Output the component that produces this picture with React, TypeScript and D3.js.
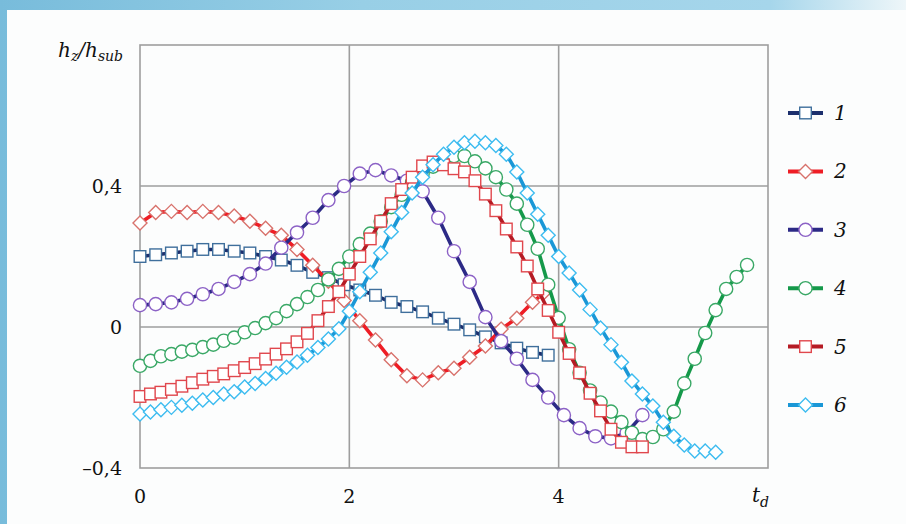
import React from "react";
import * as d3 from "d3";

// time axis values (t_d) and h_z/h_sub values
const t1 = [0, 0.15, 0.3, 0.45, 0.6, 0.75, 0.9, 1.05, 1.2, 1.35, 1.5, 1.65, 1.8, 1.95, 2.1, 2.25, 2.4, 2.55, 2.7, 2.85, 3.0, 3.15, 3.3, 3.45, 3.6, 3.75, 3.9];
const v1 = [0.2, 0.205, 0.21, 0.215, 0.22, 0.22, 0.215, 0.21, 0.2, 0.19, 0.175, 0.155, 0.14, 0.12, 0.105, 0.09, 0.07, 0.058, 0.043, 0.025, 0.008, -0.008, -0.028, -0.045, -0.06, -0.072, -0.08];

const t2 = [0, 0.15, 0.3, 0.45, 0.6, 0.75, 0.9, 1.05, 1.2, 1.35, 1.5, 1.65, 1.8, 1.95, 2.1, 2.25, 2.4, 2.55, 2.7, 2.85, 3.0, 3.15, 3.3, 3.45, 3.6, 3.75, 3.85];
const v2 = [0.295, 0.325, 0.328, 0.325, 0.328, 0.325, 0.315, 0.3, 0.28, 0.26, 0.22, 0.175, 0.13, 0.075, 0.018, -0.037, -0.093, -0.138, -0.15, -0.13, -0.117, -0.086, -0.054, -0.006, 0.025, 0.07, 0.095];

const t3 = [0, 0.15, 0.3, 0.45, 0.6, 0.75, 0.9, 1.05, 1.2, 1.35, 1.5, 1.65, 1.8, 1.95, 2.1, 2.25, 2.4, 2.55, 2.7, 2.85, 3.0, 3.15, 3.3, 3.45, 3.6, 3.75, 3.9, 4.05, 4.2, 4.35, 4.5, 4.65, 4.8];
const v3 = [0.062, 0.065, 0.07, 0.08, 0.093, 0.108, 0.128, 0.15, 0.18, 0.225, 0.268, 0.31, 0.36, 0.4, 0.435, 0.445, 0.43, 0.415, 0.385, 0.31, 0.215, 0.128, 0.028, -0.04, -0.09, -0.15, -0.2, -0.25, -0.287, -0.31, -0.316, -0.3, -0.25];

const t4 = [0, 0.1, 0.2, 0.3, 0.4, 0.5, 0.6, 0.7, 0.8, 0.9, 1.0, 1.1, 1.2, 1.3, 1.4, 1.5, 1.6, 1.7, 1.8, 1.9, 2.0, 2.1, 2.2, 2.3, 2.4, 2.5, 2.6, 2.7, 2.8, 2.9, 3.0, 3.1, 3.2, 3.3, 3.4, 3.5, 3.6, 3.7, 3.8, 3.9, 4.0, 4.1, 4.2, 4.3, 4.4, 4.5, 4.6, 4.7, 4.8, 4.9, 5.0, 5.1, 5.2, 5.3, 5.4, 5.5, 5.6, 5.7, 5.8];
const v4 = [-0.11, -0.096, -0.083, -0.077, -0.07, -0.065, -0.057, -0.05, -0.039, -0.03, -0.015, -0.003, 0.011, 0.025, 0.045, 0.065, 0.085, 0.105, 0.135, 0.165, 0.2, 0.235, 0.265, 0.3, 0.34, 0.375, 0.41, 0.435, 0.455, 0.475, 0.485, 0.485, 0.47, 0.45, 0.425, 0.39, 0.35, 0.29, 0.222, 0.12, 0.026, -0.063, -0.13, -0.18, -0.214, -0.24, -0.27, -0.3, -0.318, -0.312, -0.29, -0.24, -0.16, -0.09, -0.017, 0.048, 0.108, 0.142, 0.176];

const t5 = [0, 0.1, 0.2, 0.3, 0.4, 0.5, 0.6, 0.7, 0.8, 0.9, 1.0, 1.1, 1.2, 1.3, 1.4, 1.5, 1.6, 1.7, 1.8, 1.9, 2.0, 2.1, 2.2, 2.3, 2.4, 2.5, 2.6, 2.7, 2.8, 2.9, 3.0, 3.1, 3.2, 3.3, 3.4, 3.5, 3.6, 3.7, 3.8, 3.9, 4.0, 4.1, 4.2, 4.3, 4.4, 4.5, 4.6, 4.7, 4.8];
const v5 = [-0.197, -0.19, -0.185, -0.177, -0.168, -0.158, -0.148, -0.14, -0.133, -0.124, -0.115, -0.104, -0.091, -0.077, -0.062, -0.042, -0.018, 0.018, 0.058, 0.1, 0.15, 0.2, 0.25, 0.3, 0.35, 0.39, 0.425, 0.457, 0.468, 0.46, 0.449, 0.44, 0.415, 0.377, 0.33, 0.278, 0.227, 0.173, 0.108, 0.047, -0.015, -0.075, -0.13, -0.188, -0.238, -0.29, -0.327, -0.34, -0.34];

const t6 = [0, 0.1, 0.2, 0.3, 0.4, 0.5, 0.6, 0.7, 0.8, 0.9, 1.0, 1.1, 1.2, 1.3, 1.4, 1.5, 1.6, 1.7, 1.8, 1.9, 2.0, 2.1, 2.2, 2.3, 2.4, 2.5, 2.6, 2.7, 2.8, 2.9, 3.0, 3.1, 3.2, 3.3, 3.4, 3.5, 3.6, 3.7, 3.8, 3.9, 4.0, 4.1, 4.2, 4.3, 4.4, 4.5, 4.6, 4.7, 4.8, 4.9, 5.0, 5.1, 5.2, 5.3, 5.4, 5.5];
const v6 = [-0.247, -0.241, -0.235, -0.228, -0.222, -0.216, -0.207, -0.2, -0.19, -0.184, -0.17, -0.16, -0.146, -0.131, -0.114, -0.099, -0.08, -0.058, -0.034, -0.005, 0.045, 0.1, 0.155, 0.21, 0.27, 0.325, 0.38, 0.425, 0.46, 0.49, 0.51, 0.523, 0.527, 0.523, 0.515, 0.49, 0.44, 0.38, 0.32, 0.26, 0.2, 0.153, 0.105, 0.05, -0.003, -0.05, -0.1, -0.153, -0.19, -0.224, -0.27, -0.31, -0.335, -0.352, -0.352, -0.355];

const seriesNames = ["1", "2", "3", "4", "5", "6"];
const xTicks = [0, 2, 4];
const yTicks = [-0.4, 0, 0.4];
const yTickLabels = ["\u20130,4", "0", "0,4"];

const styles = [
  { line: "#1c2f6d", marker: "#3f6f9c", shape: "square" },
  { line: "#ee1d25", marker: "#d8726c", shape: "diamond" },
  { line: "#2c2a86", marker: "#8c62c6", shape: "circle" },
  { line: "#15994a", marker: "#3aa866", shape: "circle" },
  { line: "#b51b24", marker: "#e0474d", shape: "square" },
  { line: "#1a97d6", marker: "#3dbcf0", shape: "diamond" },
];

const W = 906;
const H = 524;
const plot = { left: 140, right: 768, top: 45, bottom: 468 };
const serif = "'DejaVu Serif', serif";

function Marker({ x, y, shape, color }: { x: number; y: number; shape: string; color: string }) {
  if (shape === "square")
    return <rect x={x - 5.8} y={y - 5.8} width={11.6} height={11.6} fill="#fff" stroke={color} strokeWidth={1.4} />;
  if (shape === "diamond")
    return (
      <path
        d={`M${x},${y - 7}L${x + 7},${y}L${x},${y + 7}L${x - 7},${y}Z`}
        fill="#fff"
        stroke={color}
        strokeWidth={1.4}
      />
    );
  return <circle cx={x} cy={y} r={6.6} fill="#fff" stroke={color} strokeWidth={1.4} />;
}

export default function App() {
  const x = d3.scaleLinear().domain([0, 6]).range([plot.left, plot.right]);
  const y = d3.scaleLinear().domain([-0.4, 0.8]).range([plot.bottom, plot.top]);

  const times = [t1, t2, t3, t4, t5, t6];
  const values = [v1, v2, v3, v4, v5, v6];
  const series = seriesNames.map((name, i) => ({
    name,
    style: styles[i],
    points: times[i].map((t, j) => [t, values[i][j]] as [number, number]),
  }));

  const line = d3
    .line<[number, number]>()
    .x((d) => x(d[0]))
    .y((d) => y(d[1]));

  const gridColor = "#9e9e9e";
  const legendY = d3.scaleLinear().domain([0, 5]).range([113, 405]);

  return (
    <div style={{ position: "absolute", left: 0, top: 0 }}>
      <svg width={W} height={H} style={{ display: "block" }}>
        <defs>
          <linearGradient id="bgTop" x1="0" x2="1" y1="0" y2="0">
            <stop offset="0%" stopColor="#78bcdb" />
            <stop offset="40%" stopColor="#98cfe6" />
            <stop offset="85%" stopColor="#a6d6eb" />
            <stop offset="100%" stopColor="#eef6f9" />
          </linearGradient>
        </defs>
        <rect x={0} y={0} width={W} height={H} fill="url(#bgTop)" />
        <rect x={7} y={10} width={W - 7} height={H - 10} fill="#fcfdfd" />

        {/* grid and frame */}
        {xTicks.slice(1).map((t) => (
          <line key={"gx" + t} x1={x(t)} x2={x(t)} y1={plot.top} y2={plot.bottom} stroke={gridColor} strokeWidth={1.6} />
        ))}
        {yTicks.slice(1).map((t) => (
          <line key={"gy" + t} x1={plot.left} x2={plot.right} y1={y(t)} y2={y(t)} stroke={gridColor} strokeWidth={1.6} />
        ))}
        <rect
          x={plot.left}
          y={plot.top}
          width={plot.right - plot.left}
          height={plot.bottom - plot.top}
          fill="none"
          stroke={gridColor}
          strokeWidth={1.6}
        />

        {/* series */}
        {series.map((s) => (
          <g key={s.name}>
            <path d={line(s.points) || ""} fill="none" stroke={s.style.line} strokeWidth={3.6} strokeLinejoin="round" />
            {s.points.map((p, j) => (
              <Marker key={j} x={x(p[0])} y={y(p[1])} shape={s.style.shape} color={s.style.marker} />
            ))}
          </g>
        ))}

        {/* y tick labels */}
        {yTicks.map((t, i) => (
          <text key={"yl" + t} x={122} y={y(t) + 7} textAnchor="end" fontFamily={serif} fontSize={19} fill="#111">
            {yTickLabels[i]}
          </text>
        ))}
        {/* x tick labels */}
        {xTicks.map((t) => (
          <text key={"xl" + t} x={x(t)} y={503} textAnchor="middle" fontFamily={serif} fontSize={19} fill="#111">
            {t}
          </text>
        ))}
        <text x={752} y={502} fontFamily={serif} fontSize={20} fontStyle="italic" fill="#111">
          t<tspan fontSize={14} dy={5}>d</tspan>
        </text>
        <text x={58} y={57} fontFamily={serif} fontSize={20} fontStyle="italic" fill="#111">
          h<tspan fontSize={14} dy={4}>z</tspan>
          <tspan dy={-4}>/h</tspan>
          <tspan fontSize={14} dy={4}>sub</tspan>
        </text>

        {/* legend */}
        {series.map((s, i) => {
          const ly = legendY(i);
          return (
            <g key={"lg" + s.name}>
              <line x1={788} x2={823} y1={ly} y2={ly} stroke={s.style.line} strokeWidth={4} />
              <Marker x={805.5} y={ly} shape={s.style.shape} color={s.style.marker} />
              <text x={834} y={ly + 7} fontFamily={serif} fontSize={20} fontStyle="italic" fill="#111">
                {s.name}
              </text>
            </g>
          );
        })}
      </svg>
    </div>
  );
}
